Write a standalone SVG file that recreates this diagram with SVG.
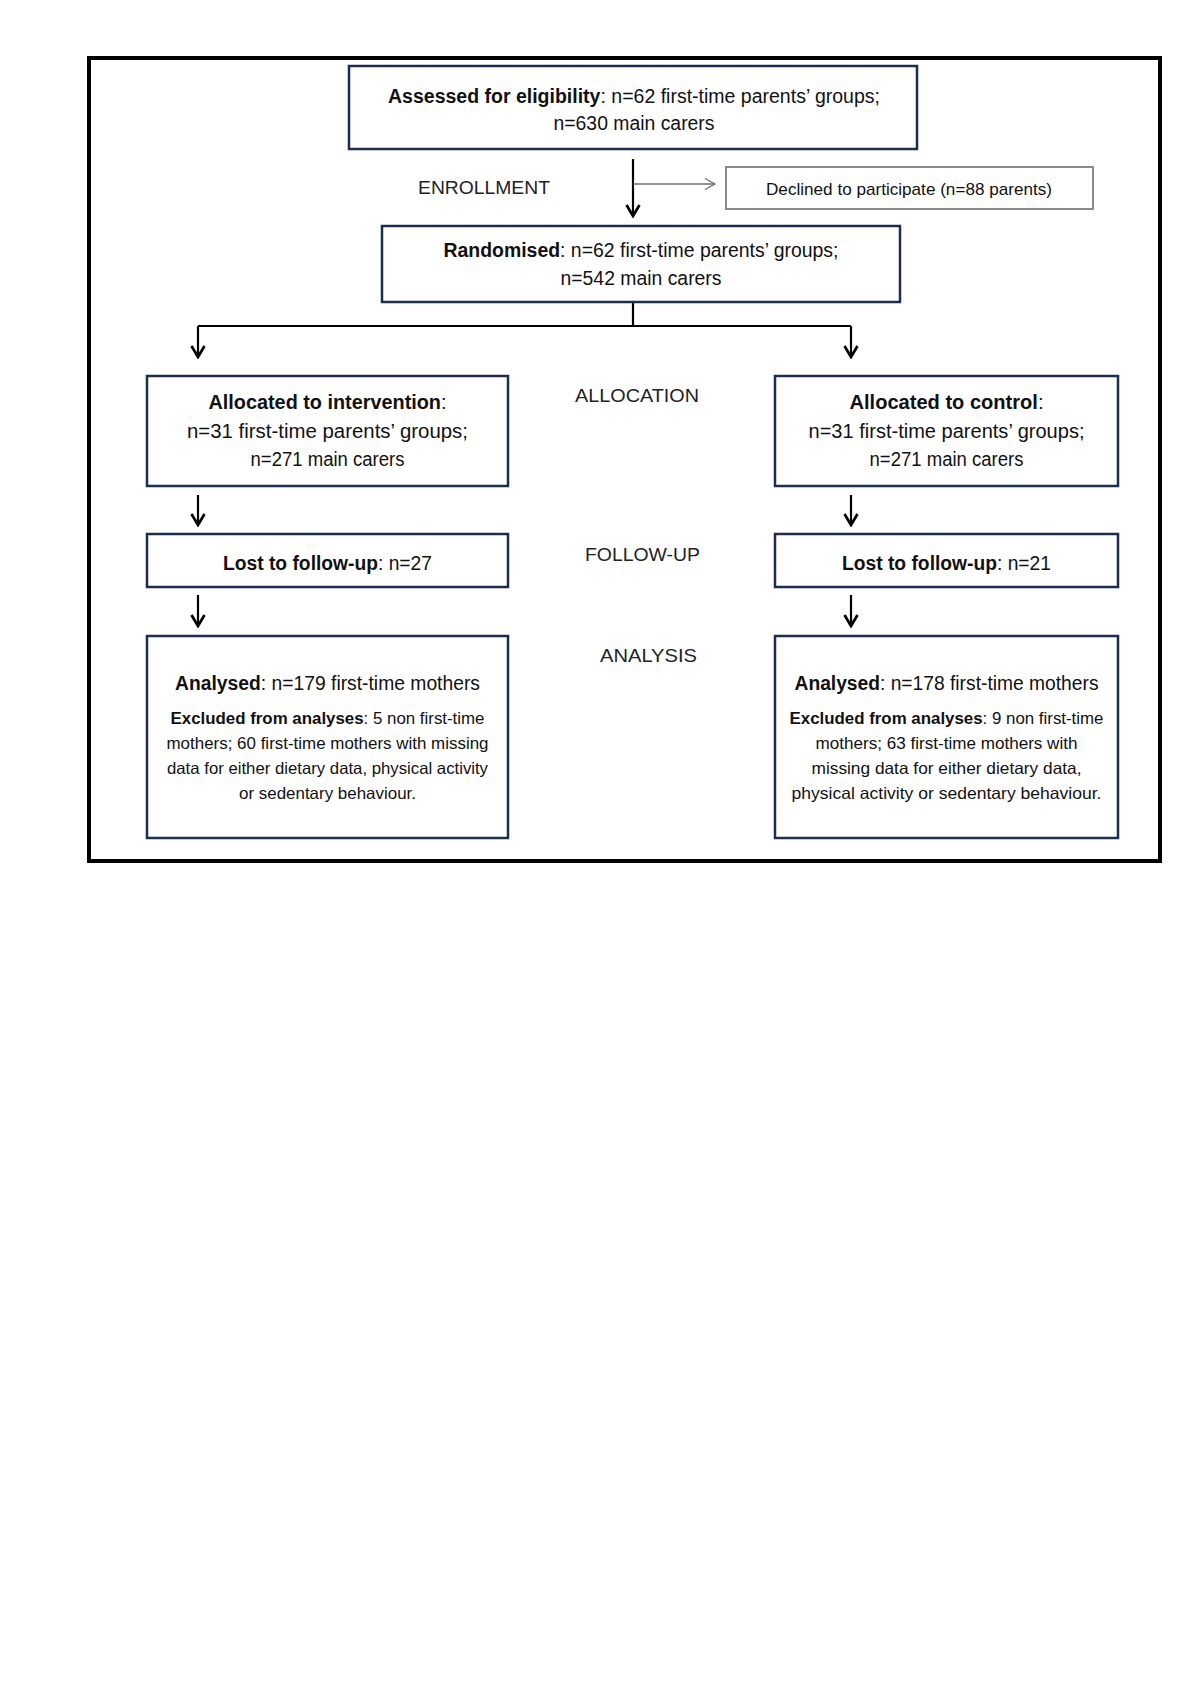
<svg xmlns="http://www.w3.org/2000/svg" width="1200" height="1698" viewBox="0 0 1200 1698">
<defs>
<style>
text{font-family:"Liberation Sans",Arial,sans-serif;fill:#111;}
.t{font-size:19.5px;text-anchor:middle;}
.s{font-size:16.5px;text-anchor:middle;}
.d{font-size:17px;text-anchor:middle;}
.lbl{font-size:19px;fill:#222;}
.b{font-weight:bold;}
.box{fill:#fff;stroke:#1c2d52;stroke-width:2.5;}
.gbox{fill:#fff;stroke:#8a8a8a;stroke-width:2;}
.con{fill:none;stroke:#000;stroke-width:2.2;}
.gcon{fill:none;stroke:#707070;stroke-width:1.3;}
</style>
<marker id="ah" markerUnits="userSpaceOnUse" viewBox="-13 -9 15 18" refX="0" refY="0" markerWidth="15" markerHeight="18" orient="auto">
<path d="M-11,-6.5 L0,0 L-11,6.5" fill="none" stroke="#000" stroke-width="2.7"/>
</marker>
<marker id="gah" markerUnits="userSpaceOnUse" viewBox="-12 -8 14 16" refX="0" refY="0" markerWidth="14" markerHeight="16" orient="auto">
<path d="M-10,-5.5 L0,0 L-10,5.5" fill="none" stroke="#707070" stroke-width="1.3"/>
</marker>
</defs>
<rect x="0" y="0" width="1200" height="1698" fill="#fff"/>
<rect id="frame" x="89" y="58" width="1071" height="803" fill="none" stroke="#000" stroke-width="4"/>

<g id="connectors">
<path class="con" d="M633,159 V216" marker-end="url(#ah)"/>
<path class="gcon" d="M633,184 H715" marker-end="url(#gah)"/>
<path class="con" d="M633,302 V326 M198,326 H851"/>
<path class="con" d="M198,326 V357" marker-end="url(#ah)"/>
<path class="con" d="M851,326 V357" marker-end="url(#ah)"/>
<path class="con" d="M198,495 V525" marker-end="url(#ah)"/>
<path class="con" d="M851,495 V525" marker-end="url(#ah)"/>
<path class="con" d="M198,595 V626" marker-end="url(#ah)"/>
<path class="con" d="M851,595 V626" marker-end="url(#ah)"/>
</g>

<g id="labels">
<text class="lbl" x="418" y="194" textLength="132" lengthAdjust="spacingAndGlyphs">ENROLLMENT</text>
<text class="lbl" x="575" y="402" textLength="124" lengthAdjust="spacingAndGlyphs">ALLOCATION</text>
<text class="lbl" x="585" y="561" textLength="115" lengthAdjust="spacingAndGlyphs">FOLLOW-UP</text>
<text class="lbl" x="600" y="662" textLength="97" lengthAdjust="spacingAndGlyphs">ANALYSIS</text>
</g>

<g id="assessed">
<rect class="box" x="349" y="66" width="568" height="83"/>
<text class="t" x="634" y="103" textLength="492" lengthAdjust="spacingAndGlyphs"><tspan class="b">Assessed for eligibility</tspan>: n=62 first-time parents’ groups;</text>
<text class="t" x="634" y="130" textLength="161" lengthAdjust="spacingAndGlyphs">n=630 main carers</text>
</g>

<g id="declined">
<rect class="gbox" x="726" y="167" width="367" height="42"/>
<text class="d" x="909" y="195" textLength="286" lengthAdjust="spacingAndGlyphs">Declined to participate (n=88 parents)</text>
</g>

<g id="randomised">
<rect class="box" x="382" y="226" width="518" height="76"/>
<text class="t" x="641" y="257" textLength="395" lengthAdjust="spacingAndGlyphs"><tspan class="b">Randomised</tspan>: n=62 first-time parents’ groups;</text>
<text class="t" x="641" y="285" textLength="161" lengthAdjust="spacingAndGlyphs">n=542 main carers</text>
</g>

<g id="alloc-intervention">
<rect class="box" x="147" y="376" width="361" height="110"/>
<text class="t" x="327.5" y="409" textLength="238" lengthAdjust="spacingAndGlyphs"><tspan class="b">Allocated to intervention</tspan>:</text>
<text class="t" x="327.5" y="438" textLength="281" lengthAdjust="spacingAndGlyphs">n=31 first-time parents’ groups;</text>
<text class="t" x="327.5" y="466" textLength="154" lengthAdjust="spacingAndGlyphs">n=271 main carers</text>
</g>

<g id="alloc-control">
<rect class="box" x="775" y="376" width="343" height="110"/>
<text class="t" x="946.5" y="409" textLength="194" lengthAdjust="spacingAndGlyphs"><tspan class="b">Allocated to control</tspan>:</text>
<text class="t" x="946.5" y="438" textLength="276" lengthAdjust="spacingAndGlyphs">n=31 first-time parents’ groups;</text>
<text class="t" x="946.5" y="466" textLength="154" lengthAdjust="spacingAndGlyphs">n=271 main carers</text>
</g>

<g id="lost-intervention">
<rect class="box" x="147" y="534" width="361" height="53"/>
<text class="t" x="327.5" y="570" textLength="209" lengthAdjust="spacingAndGlyphs"><tspan class="b">Lost to follow-up</tspan>: n=27</text>
</g>

<g id="lost-control">
<rect class="box" x="775" y="534" width="343" height="53"/>
<text class="t" x="946.5" y="570" textLength="209" lengthAdjust="spacingAndGlyphs"><tspan class="b">Lost to follow-up</tspan>: n=21</text>
</g>

<g id="analysed-intervention">
<rect class="box" x="147" y="636" width="361" height="202"/>
<text class="t" x="327.5" y="690" textLength="305" lengthAdjust="spacingAndGlyphs"><tspan class="b">Analysed</tspan>: n=179 first-time mothers</text>
<text class="s" x="327.5" y="724" textLength="314" lengthAdjust="spacingAndGlyphs"><tspan class="b">Excluded from analyses</tspan>: 5 non first-time</text>
<text class="s" x="327.5" y="749" textLength="322" lengthAdjust="spacingAndGlyphs">mothers; 60 first-time  mothers with missing</text>
<text class="s" x="327.5" y="774" textLength="321" lengthAdjust="spacingAndGlyphs">data for either dietary data, physical activity</text>
<text class="s" x="327.5" y="799" textLength="177" lengthAdjust="spacingAndGlyphs">or sedentary behaviour.</text>
</g>

<g id="analysed-control">
<rect class="box" x="775" y="636" width="343" height="202"/>
<text class="t" x="946.5" y="690" textLength="304" lengthAdjust="spacingAndGlyphs"><tspan class="b">Analysed</tspan>: n=178 first-time mothers</text>
<text class="s" x="946.5" y="724" textLength="314" lengthAdjust="spacingAndGlyphs"><tspan class="b">Excluded from analyses</tspan>: 9 non first-time</text>
<text class="s" x="946.5" y="749" textLength="262" lengthAdjust="spacingAndGlyphs">mothers; 63 first-time  mothers with</text>
<text class="s" x="946.5" y="774" textLength="270" lengthAdjust="spacingAndGlyphs">missing data for either dietary data,</text>
<text class="s" x="946.5" y="799" textLength="310" lengthAdjust="spacingAndGlyphs">physical activity  or sedentary behaviour.</text>
</g>
</svg>
